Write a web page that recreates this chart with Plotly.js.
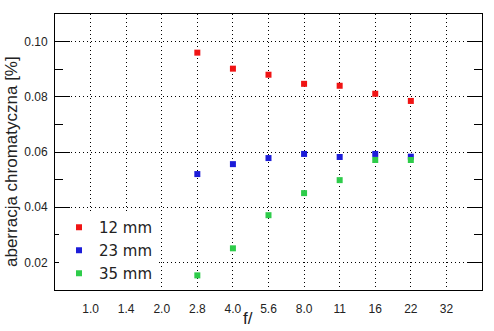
<!DOCTYPE html>
<html>
<head>
<meta charset="utf-8">
<script src="https://cdn.plot.ly/plotly-3.0.1.min.js"></script>
<style>html,body{margin:0;padding:0;background:#fff;}#chart{width:494px;height:331px;}</style>
</head>
<body>
<div id="chart"></div>
<script>
// f-number tick labels (categories)
const fStops = ["1.0", "1.4", "2.0", "2.8", "4.0", "5.6", "8.0", "11", "16", "22", "32"];
// measured apertures
const apertures = ["2.8", "4.0", "5.6", "8.0", "11", "16", "22"];
// chromatic aberration [%]
const ca12mm = [0.0960, 0.0902, 0.0880, 0.0847, 0.0840, 0.0811, 0.0785];
const ca23mm = [0.0520, 0.0556, 0.0578, 0.0593, 0.0582, 0.0593, 0.0583];
const ca35mm = [0.0153, 0.0251, 0.0371, 0.0451, 0.0498, 0.0571, 0.0571];
const seriesNames = ["12 mm", "23 mm", "35 mm"];
const seriesColors = ["#f01414", "#1c1cd8", "#2ecc4a"];

const allSeries = [ca12mm, ca23mm, ca35mm];
const traces = allSeries.map((vals, i) => ({
  type: "scatter",
  mode: "markers",
  x: apertures,
  y: vals,
  name: seriesNames[i],
  legendgroup: "g" + i,
  marker: {symbol: "square", size: 6, color: seriesColors[i]},
  hoverinfo: "skip"
}));

const fontFam = "Liberation Sans, Arial, sans-serif";
const layout = {
  width: 494, height: 331,
  margin: {l: 55, r: 12, t: 14, b: 41, pad: 0},
  paper_bgcolor: "#fff",
  plot_bgcolor: "#fff",
  showlegend: true,
  font: {family: fontFam, color: "#222", size: 12},
  xaxis: {
    type: "category",
    categoryorder: "array",
    categoryarray: fStops,
    tickvals: fStops,
    ticktext: fStops,
    range: [-1, 11],
    showline: true, linecolor: "#000", linewidth: 1, mirror: true,
    ticks: "",
    showgrid: true, gridcolor: "#000", gridwidth: 1, griddash: "1px,3px",
    zeroline: false,
    ticklabelstandoff: 8,
    tickfont: {family: fontFam, size: 12, color: "#222"},
    fixedrange: true
  },
  yaxis: {
    range: [0.01, 0.11],
    tick0: 0, dtick: 0.02,
    tickformat: ".2f",
    showline: true, linecolor: "#000", linewidth: 1, mirror: "ticks",
    ticks: "inside", ticklen: 15, tickcolor: "#000", tickwidth: 1,
    minor: {dtick: 0.01, tick0: 0, ticks: "inside", ticklen: 8, tickcolor: "#000", tickwidth: 1, showgrid: false},
    showgrid: true, gridcolor: "#000", gridwidth: 1, griddash: "1px,3px",
    zeroline: false,
    ticklabelstandoff: 4,
    tickfont: {family: fontFam, size: 12, color: "#222"},
    fixedrange: true
  },
  legend: {
    x: 0.0094, y: 0, xanchor: "left", yanchor: "bottom",
    bgcolor: "#fff", borderwidth: 0,
    font: {family: "DejaVu Sans, sans-serif", size: 15, color: "#222"},
    traceorder: "grouped",
    tracegroupgap: 0.5,
    itemclick: false, itemdoubleclick: false
  },
  annotations: [{
    text: "f/", xref: "paper", yref: "paper",
    x: 0.452, y: -0.103, xanchor: "center", yanchor: "middle",
    showarrow: false,
    font: {family: fontFam, size: 17, color: "#222"}
  }, {
    text: "aberracja chromatyczna [%]", xref: "paper", yref: "paper",
    x: -0.1007, y: 0.4638, xanchor: "center", yanchor: "middle",
    textangle: -90, showarrow: false,
    font: {family: fontFam, size: 17, color: "#222"}
  }]
};

Plotly.newPlot("chart", traces, layout, {displayModeBar: false, staticPlot: true});
</script>
</body>
</html>
